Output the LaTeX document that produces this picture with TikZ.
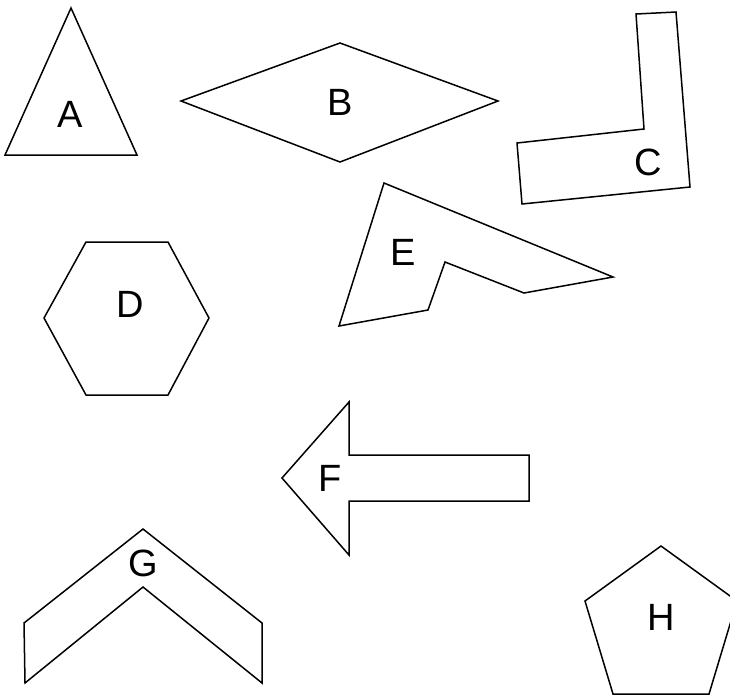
\documentclass[tikz,border=0pt]{standalone}
\usepackage{fontspec}
\setmainfont{Liberation Sans}
\usepackage{xcolor}
\usepackage{tikz}
\definecolor{ink}{HTML}{000000}
\tikzset{
  shapeline/.style={draw=ink, line width=1.5pt, line join=miter},
  lbl/.style={text=ink, font=\fontsize{38}{40}\selectfont, inner sep=0pt}
}

\begin{document}
\begin{tikzpicture}[x=1pt,y=-1pt]
  \useasboundingbox (0,0) rectangle (730,697);
  % A: triangle
  \draw[shapeline] (71,8)--(137,155)--(5,155)--cycle;
  \node[lbl] (lA) at (70,114) {A};
  % B: rhombus
  \draw[shapeline] (181,101)--(340,43)--(498,101)--(340,162)--cycle;
  \node[lbl] (lB) at (340,102) {B};
  % C: L shape
  \draw[shapeline] (636,14)--(676,12)--(690,187)--(522,204)--(517,143)--(644,129)--cycle;
  \node[lbl] (lC) at (648,162) {C};
  % D: hexagon
  \draw[shapeline] (44,318)--(86,242)--(168,242)--(209,318)--(168,395)--(86,395)--cycle;
  \node[lbl] (lD) at (130,304) {D};
  % E
  \draw[shapeline] (384,183)--(613,277)--(524,293)--(445,262)--(428,310)--(339,326)--cycle;
  \node[lbl] (lE) at (403,252) {E};
  % F: arrow
  \draw[shapeline] (282,478)--(349,402)--(349,455)--(529,455)--(529,501)--(349,501)--(349,555)--cycle;
  \node[lbl] (lF) at (330,478) {F};
  % G: chevron
  \draw[shapeline] (24,623)--(143,529)--(262,623)--(262,683)--(143,587)--(25,683)--cycle;
  \node[lbl] (lG) at (143,563) {G};
  % H: pentagon
  \draw[shapeline] (661,546)--(737,601)--(709,694)--(613,694)--(585,601)--cycle;
  \node[lbl] (lH) at (661,617) {H};
\end{tikzpicture}
\end{document}
